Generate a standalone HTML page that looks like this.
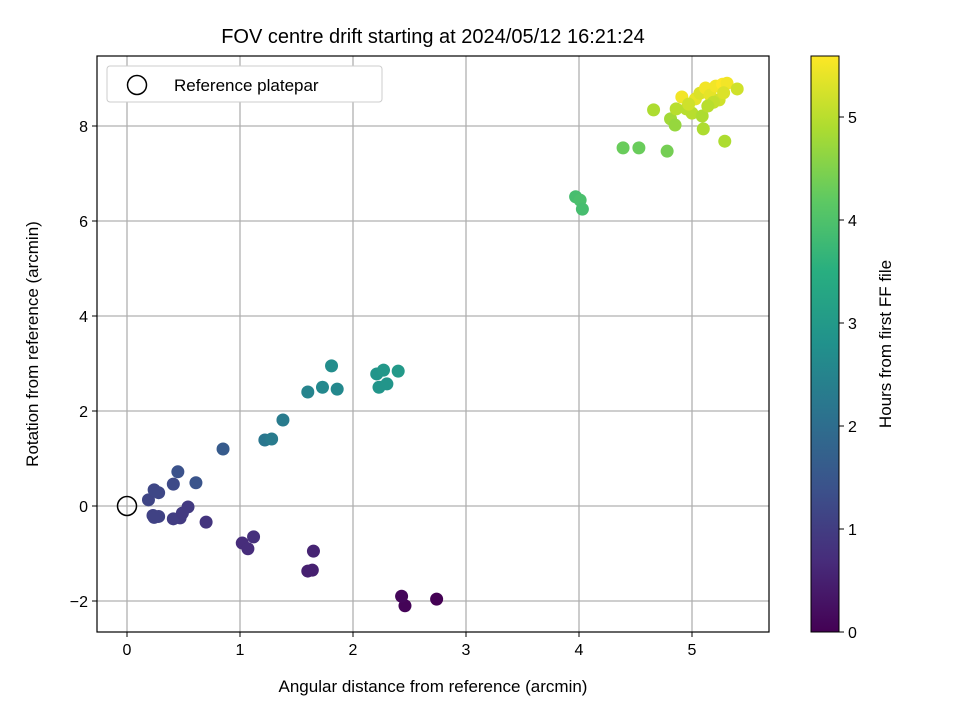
<!DOCTYPE html>
<html><head><meta charset="utf-8"><style>
body{margin:0;background:#fff;font-family:"Liberation Sans",sans-serif}
svg text{font-family:"Liberation Sans",sans-serif}
</style></head><body>
<svg id="chart" width="960" height="720">
<defs><linearGradient id="vir" x1="0" y1="1" x2="0" y2="0">
<stop offset="0" stop-color="#440154"/><stop offset="0.125" stop-color="#472d7b"/><stop offset="0.25" stop-color="#3b528b"/><stop offset="0.375" stop-color="#2c728e"/><stop offset="0.5" stop-color="#21918c"/><stop offset="0.625" stop-color="#28ae80"/><stop offset="0.75" stop-color="#5ec962"/><stop offset="0.875" stop-color="#addc30"/><stop offset="1" stop-color="#fde725"/></linearGradient></defs>
<g id="grid"></g><g id="pts"></g><g id="axes"></g>
</svg>
<script>
const xs=[2.46,2.43,2.74,1.60,1.64,1.65,1.02,1.07,1.12,0.70,0.54,0.47,0.41,0.49,0.23,0.28,0.24,0.19,0.24,0.28,0.41,0.45,0.61,0.85,1.22,1.28,1.38,1.60,1.73,1.86,1.81,2.21,2.23,2.30,2.27,2.40,3.97,4.01,4.03,4.39,4.53,4.78,5.29,5.10,4.66,4.81,4.85,4.86,4.95,5.00,5.09,4.91,5.03,5.07,5.12,5.16,5.21,5.27,5.31,5.40,5.24,5.28,5.19,4.97,5.14];
const ys=[-2.1,-1.9,-1.96,-1.37,-1.35,-0.95,-0.78,-0.9,-0.65,-0.34,-0.02,-0.25,-0.27,-0.15,-0.2,-0.22,-0.24,0.13,0.34,0.28,0.46,0.72,0.49,1.2,1.39,1.41,1.81,2.4,2.5,2.46,2.95,2.78,2.5,2.57,2.86,2.84,6.51,6.44,6.25,7.54,7.54,7.47,7.68,7.94,8.34,8.15,8.02,8.36,8.36,8.27,8.21,8.61,8.57,8.69,8.8,8.65,8.84,8.88,8.9,8.78,8.55,8.7,8.5,8.46,8.42];
const hours=[0.05,0.1,0.0,0.5,0.5,0.55,0.7,0.7,0.75,0.85,0.95,0.95,1.0,0.95,1.1,1.1,1.1,1.15,1.2,1.2,1.25,1.4,1.45,1.6,2.2,2.3,2.3,2.5,2.6,2.6,2.7,2.9,2.9,2.9,2.95,3.0,3.9,3.95,3.9,4.3,4.3,4.4,4.9,4.9,4.9,4.8,4.7,5.0,5.0,5.0,4.9,5.5,5.4,5.3,5.5,5.4,5.5,5.6,5.5,5.2,5.2,5.3,5.1,5.2,5.0];
const xTicks=[0,1,2,3,4,5], yTicks=[-2,0,2,4,6,8], cTicks=[0,1,2,3,4,5];
const NS="http://www.w3.org/2000/svg";
const X=v=>127+v*113, Y=v=>506-v*47.5, C=h=>632-h*103;
const vstops=[[68,1,84],[71,45,123],[59,82,139],[44,114,142],[33,145,140],[40,174,128],[94,201,98],[173,220,48],[253,231,37]];
function vir(t){t=Math.max(0,Math.min(1,t))*8;const i=Math.min(7,Math.floor(t)),f=t-i,a=vstops[i],b=vstops[i+1];return `rgb(${a.map((c,k)=>Math.round(c+(b[k]-c)*f)).join(',')})`;}
function mk(tag,at,par,txt){const e=document.createElementNS(NS,tag);for(const k in at)e.setAttribute(k,at[k]);if(txt!==undefined)e.textContent=txt;document.getElementById(par).appendChild(e);return e;}
xTicks.forEach(t=>{const l=mk('line',{x1:X(t),x2:X(t),y1:56,y2:632,stroke:'#b0b0b0','stroke-width':1.3},'grid');});
yTicks.forEach(t=>{const l=mk('line',{x1:97,x2:769,y1:Y(t),y2:Y(t),stroke:'#b0b0b0','stroke-width':1.3},'grid');});
xs.forEach((x,i)=>{const c=mk('circle',{cx:X(x),cy:Y(ys[i]),r:6.5,fill:vir(hours[i]/5.6)},'pts');});
let r=mk('circle',{cx:X(0),cy:Y(0),r:9.5,fill:'none',stroke:'#000','stroke-width':1.5},'pts');
let f=mk('rect',{x:97,y:56,width:672,height:576,fill:'none',stroke:'#000','stroke-width':1.2},'axes');
xTicks.forEach(t=>{mk('line',{x1:X(t),x2:X(t),y1:632,y2:637,stroke:'#000'},'axes');const e=mk('text',{x:X(t),y:655,'text-anchor':'middle','font-size':16},'axes',t);});
yTicks.forEach(t=>{mk('line',{x1:92,x2:97,y1:Y(t),y2:Y(t),stroke:'#000'},'axes');const e=mk('text',{x:88,y:Y(t)+6,'text-anchor':'end','font-size':16},'axes',t<0?'−'+(-t):t);});
let cb=mk('rect',{x:811,y:56,width:28,height:576,fill:'url(#vir)',stroke:'#000','stroke-width':1},'axes');
cTicks.forEach(t=>{mk('line',{x1:839,x2:844,y1:C(t),y2:C(t),stroke:'#000'},'axes');const e=mk('text',{x:848,y:C(t)+6,'font-size':16},'axes',t);});
let tt=mk('text',{x:433,y:43,'text-anchor':'middle','font-size':20},'axes','FOV centre drift starting at 2024/05/12 16:21:24');
let xl=mk('text',{x:433,y:692,'text-anchor':'middle','font-size':17},'axes','Angular distance from reference (arcmin)');
let yl=mk('text',{x:38,y:344,'text-anchor':'middle','font-size':17,transform:'rotate(-90 38 344)'},'axes','Rotation from reference (arcmin)');
let cl=mk('text',{x:891,y:344,'text-anchor':'middle','font-size':17,transform:'rotate(-90 891 344)'},'axes','Hours from first FF file');
let lg=mk('rect',{x:107,y:66,width:275,height:36,rx:3,fill:'#fff',stroke:'#ccc'},'axes');
mk('circle',{cx:137,cy:85,r:9.5,fill:'none',stroke:'#000','stroke-width':1.5},'axes');
let lt=mk('text',{x:174,y:91,'font-size':17},'axes','Reference platepar');
</script>
</body></html>
